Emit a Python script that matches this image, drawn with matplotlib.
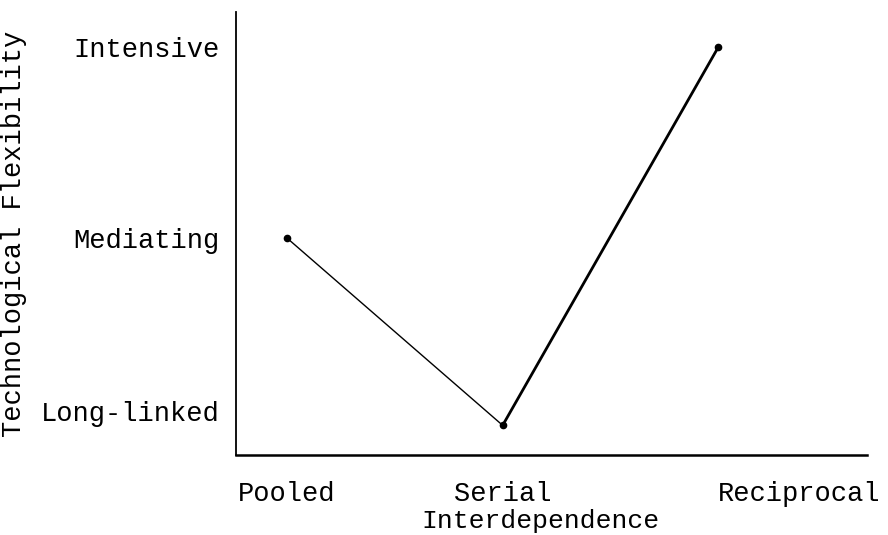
import matplotlib.pyplot as plt
from matplotlib.transforms import ScaledTranslation

# data
interdependence = ['Pooled', 'Serial', 'Reciprocal']
flexibility = [1.97, 0.96, 3.0]
levels = [1, 2, 3]
level_labels = ['Long-linked', 'Mediating', 'Intensive']

plt.rcParams['font.family'] = ['Liberation Mono', 'DejaVu Sans Mono']

fig = plt.figure(figsize=(8.88, 5.35), dpi=100)
ax = fig.add_axes([236 / 888, 1 - 455 / 535, (867 - 236) / 888, (455 - 12) / 535])

xs = list(range(len(interdependence)))
# first segment is drawn thinner than the second in the original
ax.plot(xs[:2], flexibility[:2], color='black', lw=1.0)
ax.plot(xs[1:], flexibility[1:], color='black', lw=2.0)
ax.plot(xs, flexibility, 'o', color='black', ms=4.5)

ax.set_xlim(-0.237, 2.69)
ax.set_ylim(0.8, 3.19)

ax.set_yticks(levels)
ax.set_yticklabels(level_labels, fontsize=19.5)
ax.set_xticks(xs)
ax.set_xticklabels(interdependence, fontsize=19.5)
ax.get_xticklabels()[-1].set_ha('left')
ax.tick_params(axis='both', length=0)
ax.tick_params(axis='y', pad=12)
ax.tick_params(axis='x', pad=19)

# the typed labels sit a little off the plotted levels
ylabs = ax.get_yticklabels()
ylabs[0].set_transform(ylabs[0].get_transform() + ScaledTranslation(0, 0.07, fig.dpi_scale_trans))
ylabs[1].set_transform(ylabs[1].get_transform() + ScaledTranslation(0, -0.05, fig.dpi_scale_trans))

ax.set_xlabel('Interdependence', fontsize=19)
ax.xaxis.set_label_coords(0.482, -0.122)
ax.set_ylabel('Technological Flexibility', fontsize=19.5, labelpad=10)

for side in ['top', 'right']:
    ax.spines[side].set_visible(False)
ax.spines['left'].set_linewidth(1.3)
ax.spines['bottom'].set_linewidth(1.8)

fig.savefig('out.png', dpi=100)
